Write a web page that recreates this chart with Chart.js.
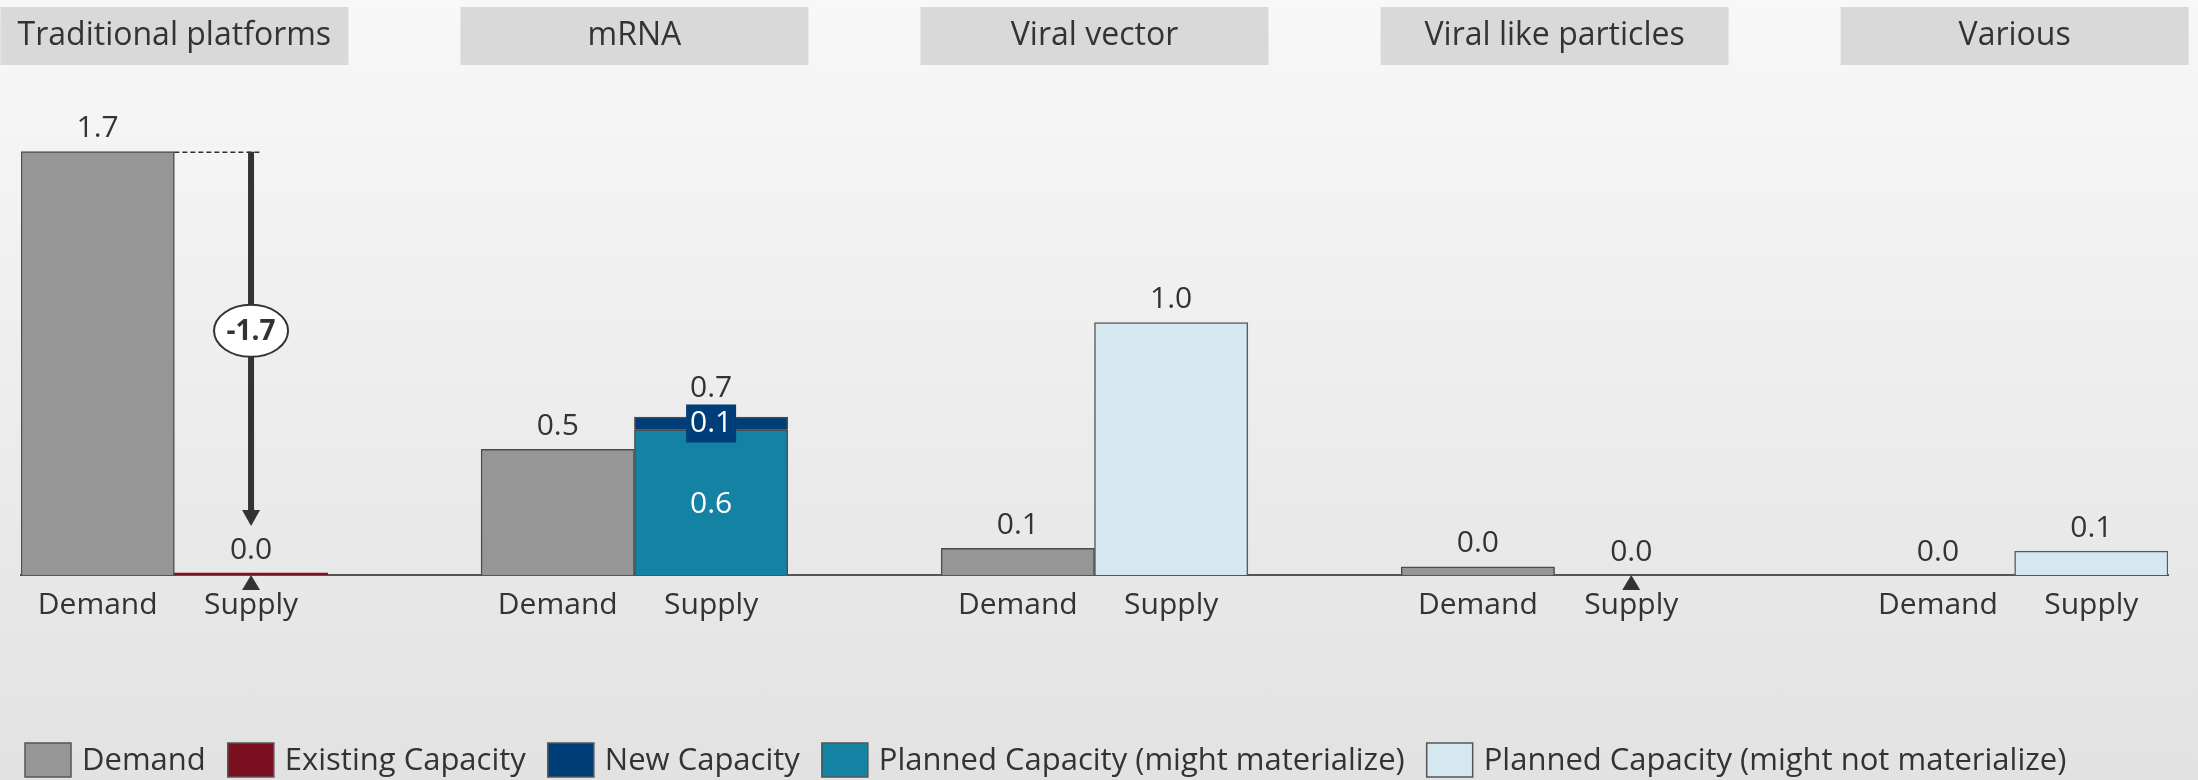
<!DOCTYPE html>
<html><head><meta charset="utf-8">
<script src="https://cdn.jsdelivr.net/npm/chart.js@4"></script>
<style>
html,body{margin:0;padding:0;}
#wrap{width:2198px;height:780px;background:linear-gradient(#f8f8f8,#e2e2e2);position:relative;}
</style></head><body><div id="wrap"><canvas id="c"></canvas></div>
<script>
// ---- data ----
const panels = ['Traditional platforms','mRNA','Viral vector','Viral like particles','Various'];
const barNames = ['Demand','Supply'];
const demand = [1.7, 0.505, 0.107, 0.033, null];
const existingCapacity = [0.008, null, null, null, null];
const plannedMaterialize = [null, 0.583, null, null, null];
const newCapacity = [null, 0.051, null, null, null];
const plannedNotMaterialize = [null, null, 1.014, null, 0.096];
const demandLabels = ['1.7','0.5','0.1','0.0','0.0'];
const supplyLabels = ['0.0','0.7','1.0','0.0','0.1'];
const newCapLabels = ['', '0.1', '', '', ''];
const plannedMatLabels = ['', '0.6', '', '', ''];
const gapLabels = ['-1.7', '', '', '', ''];
const gapMarkers = [true, false, false, true, false];

// ---- build slots ----
const xLabels = [];
panels.forEach((p,i)=>{ xLabels.push(barNames[0], barNames[1]); if (i < panels.length-1) xLabels.push(''); });
function toSlots(arr, offset){
  const out = new Array(xLabels.length).fill(null);
  arr.forEach((v,i)=>{ out[3*i+offset] = v; });
  return out;
}
const FONT = '"Open Sans", "Noto Sans", sans-serif';
const TXT = '#333333';
const BORDER = '#4d4d4d';

const datasets = [
  {label:'Demand', data: toSlots(demand,0), backgroundColor:'#969696', borderColor:BORDER, borderWidth:1.5},
  {label:'Existing Capacity', data: toSlots(existingCapacity,1), backgroundColor:'#7b1120', borderColor:'#7b1120', borderWidth:0},
  {label:'Planned Capacity (might materialize)', data: toSlots(plannedMaterialize,1), backgroundColor:'#1382a3', borderColor:BORDER, borderWidth:1.5},
  {label:'New Capacity', data: toSlots(newCapacity,1), backgroundColor:'#003e79', borderColor:BORDER, borderWidth:1.5},
  {label:'Planned Capacity (might not materialize)', data: toSlots(plannedNotMaterialize,1), backgroundColor:'#d5e8ef', borderColor:'#5a5a5a', borderWidth:1.5}
];
const legendOrder = [0,1,3,2,4];

const decor = {
  id:'decor',
  beforeDatasetsDraw(chart){
    const ctx = chart.ctx, x = chart.scales.x;
    ctx.save();
    panels.forEach((p,i)=>{
      const cx = (x.getPixelForValue(3*i) + x.getPixelForValue(3*i+1))/2;
      ctx.fillStyle = '#d9d9d9';
      ctx.fillRect(cx-174, 7, 348, 58);
      ctx.fillStyle = TXT;
      ctx.font = '32px ' + FONT;
      ctx.textAlign = 'center';
      ctx.textBaseline = 'middle';
      ctx.fillText(p, cx, 36);
    });
    ctx.restore();
  },
  afterDatasetsDraw(chart){
    const ctx = chart.ctx, x = chart.scales.x, y = chart.scales.y;
    const base = y.getPixelForValue(0);
    ctx.save();
    ctx.textAlign = 'center';
    ctx.textBaseline = 'middle';
    panels.forEach((p,i)=>{
      const dx = x.getPixelForValue(3*i), sx = x.getPixelForValue(3*i+1);
      const dTop = y.getPixelForValue(demand[i] || 0);
      const sTot = (existingCapacity[i]||0)+(plannedMaterialize[i]||0)+(newCapacity[i]||0)+(plannedNotMaterialize[i]||0);
      const sTop = y.getPixelForValue(sTot);
      let supplyLabelY = sTop - 23;
      ctx.font = '30px ' + FONT;
      // inner labels
      if (plannedMatLabels[i]) {
        const lo = y.getPixelForValue(existingCapacity[i]||0);
        const hi = y.getPixelForValue((existingCapacity[i]||0)+(plannedMaterialize[i]||0));
        ctx.fillStyle = '#ffffff';
        ctx.fillText(plannedMatLabels[i], sx, (lo+hi)/2 + 2);
      }
      if (newCapLabels[i]) {
        const b0 = (existingCapacity[i]||0)+(plannedMaterialize[i]||0);
        const lo = y.getPixelForValue(b0), hi = y.getPixelForValue(b0 + (newCapacity[i]||0));
        const cy = (lo+hi)/2;
        ctx.fillStyle = '#003e79';
        ctx.fillRect(sx-25, cy-19, 50, 38);
        ctx.fillStyle = '#ffffff';
        ctx.fillText(newCapLabels[i], sx, cy);
        supplyLabelY = Math.min(supplyLabelY, cy - 19 - 16);
      }
      ctx.fillStyle = TXT;
      ctx.fillText(demandLabels[i], dx, dTop - 23);
      ctx.fillText(supplyLabels[i], sx, supplyLabelY);
      // gap marker triangle
      if (gapMarkers[i]) {
        ctx.fillStyle = '#333';
        ctx.beginPath();
        ctx.moveTo(sx, base);
        ctx.lineTo(sx-9, base+15);
        ctx.lineTo(sx+9, base+15);
        ctx.closePath();
        ctx.fill();
      }
      // gap arrow
      if (gapLabels[i]) {
        const meta = chart.getDatasetMeta(0).data[3*i];
        const right = meta.x + meta.width/2;
        ctx.strokeStyle = '#333';
        ctx.lineWidth = 1.5;
        ctx.setLineDash([5,3]);
        ctx.beginPath();
        ctx.moveTo(right, dTop+0.5);
        ctx.lineTo(sx+10, dTop+0.5);
        ctx.stroke();
        ctx.setLineDash([]);
        const tip = sTop - 47, headBase = tip - 16;
        ctx.lineWidth = 6;
        ctx.beginPath();
        ctx.moveTo(sx, dTop);
        ctx.lineTo(sx, headBase+2);
        ctx.stroke();
        ctx.fillStyle = '#333';
        ctx.beginPath();
        ctx.moveTo(sx-9, headBase);
        ctx.lineTo(sx+9, headBase);
        ctx.lineTo(sx, tip);
        ctx.closePath();
        ctx.fill();
        const ey = (dTop + headBase)/2;
        ctx.beginPath();
        ctx.ellipse(sx, ey, 37, 26, 0, 0, Math.PI*2);
        ctx.fillStyle = '#ffffff';
        ctx.fill();
        ctx.lineWidth = 2;
        ctx.strokeStyle = '#333';
        ctx.stroke();
        ctx.fillStyle = TXT;
        ctx.font = 'bold 28px ' + FONT;
        ctx.fillText(gapLabels[i], sx, ey + 1);
      }
    });
    // legend
    let lx = 25;
    const ly = 760;
    ctx.font = '31px ' + FONT;
    ctx.textAlign = 'left';
    legendOrder.forEach(di=>{
      const ds = chart.data.datasets[di];
      ctx.fillStyle = ds.backgroundColor;
      ctx.fillRect(lx, ly-17, 46, 34);
      ctx.strokeStyle = '#555';
      ctx.lineWidth = 1.5;
      ctx.strokeRect(lx, ly-17, 46, 34);
      ctx.fillStyle = TXT;
      ctx.fillText(ds.label, lx + 57, ly + 1);
      lx += 57 + ctx.measureText(ds.label).width + 22;
    });
    ctx.restore();
  }
};

new Chart(document.getElementById('c'), {
  type:'bar',
  data:{ labels: xLabels, datasets },
  options:{
    responsive:true,
    maintainAspectRatio:false,
    animation:false,
    layout:{ padding:{ left:21, right:30, top:77, bottom:0 } },
    datasets:{ bar:{ barPercentage:1, categoryPercentage:1 } },
    plugins:{ legend:{display:false}, tooltip:{enabled:false} },
    scales:{
      x:{
        stacked:true,
        grid:{ display:false, drawTicks:false },
        border:{ display:true, color:'#555', width:2 },
        ticks:{ autoSkip:false, maxRotation:0, padding:12, color:TXT, font:{ family:FONT, size:30 } },
        afterFit(scale){ scale.height = 205; }
      },
      y:{ stacked:true, display:false, min:0, max:2.0 }
    }
  },
  plugins:[decor]
});
</script></body></html>
